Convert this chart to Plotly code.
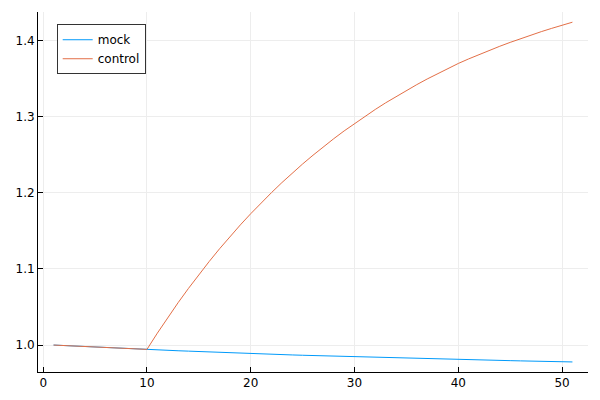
import plotly.graph_objects as go

x_values = list(range(1, 52))

mock = [
    1.0000, 0.9993, 0.9987, 0.9980, 0.9974, 0.9967, 0.9961, 0.9955, 0.9949, 0.9943,
    0.9937, 0.9931, 0.9925, 0.9920, 0.9914, 0.9909, 0.9904, 0.9899, 0.9894, 0.9889,
    0.9884, 0.9879, 0.9875, 0.9870, 0.9866, 0.9862, 0.9857, 0.9853, 0.9849, 0.9845,
    0.9841, 0.9838, 0.9834, 0.9830, 0.9827, 0.9823, 0.9820, 0.9817, 0.9813, 0.9810,
    0.9807, 0.9804, 0.9801, 0.9798, 0.9795, 0.9792, 0.9789, 0.9787, 0.9784, 0.9781, 0.9778,
]

control = [
    1.0000, 0.9993, 0.9987, 0.9980, 0.9974, 0.9967, 0.9961, 0.9955, 0.9949, 0.9943,
    1.0156, 1.0360, 1.0556, 1.0744, 1.0925, 1.1098, 1.1265, 1.1424, 1.1578, 1.1725,
    1.1867, 1.2002, 1.2133, 1.2258, 1.2378, 1.2493, 1.2604, 1.2710, 1.2812, 1.2910,
    1.3004, 1.3094, 1.3181, 1.3264, 1.3344, 1.3420, 1.3494, 1.3565, 1.3633, 1.3698,
    1.3758, 1.3816, 1.3871, 1.3924, 1.3975, 1.4024, 1.4071, 1.4116, 1.4159, 1.4200, 1.4240,
]

x_ticks = [0, 10, 20, 30, 40, 50]
y_ticks = [1.0, 1.1, 1.2, 1.3, 1.4]
y_tick_labels = ["1.0", "1.1", "1.2", "1.3", "1.4"]

fig = go.Figure()
fig.add_trace(go.Scatter(x=x_values, y=mock, mode="lines", name="mock",
                         line=dict(color="#009AFA", width=1)))
fig.add_trace(go.Scatter(x=x_values, y=control, mode="lines", name="control",
                         line=dict(color="#E36F47", width=1)))

axis_common = dict(
    showline=True, linecolor="black", linewidth=1, mirror=False,
    showgrid=True, gridcolor="#ededed", gridwidth=1,
    ticks="inside", ticklen=5, tickwidth=1, tickcolor="black",
    zeroline=False, automargin=False,
    tickfont=dict(family="DejaVu Sans", size=12, color="black"),
)

# The page body adds an 8px offset; margins compensate for it.
fig.update_layout(
    width=600, height=400,
    margin=dict(l=30, r=20, t=4, b=36),
    paper_bgcolor="white", plot_bgcolor="white",
    xaxis=dict(range=[-0.5, 52.5], tickvals=x_ticks, **axis_common),
    yaxis=dict(range=[0.9646, 1.4374], tickvals=y_ticks, ticktext=y_tick_labels, **axis_common),
    legend=dict(x=0.034, y=0.966, xanchor="left", yanchor="top",
                bgcolor="white", bordercolor="#333333", borderwidth=1,
                font=dict(family="DejaVu Sans", size=12, color="black"),
                tracegroupgap=0, itemwidth=30),
    showlegend=True,
)

fig.write_html("out.html")
